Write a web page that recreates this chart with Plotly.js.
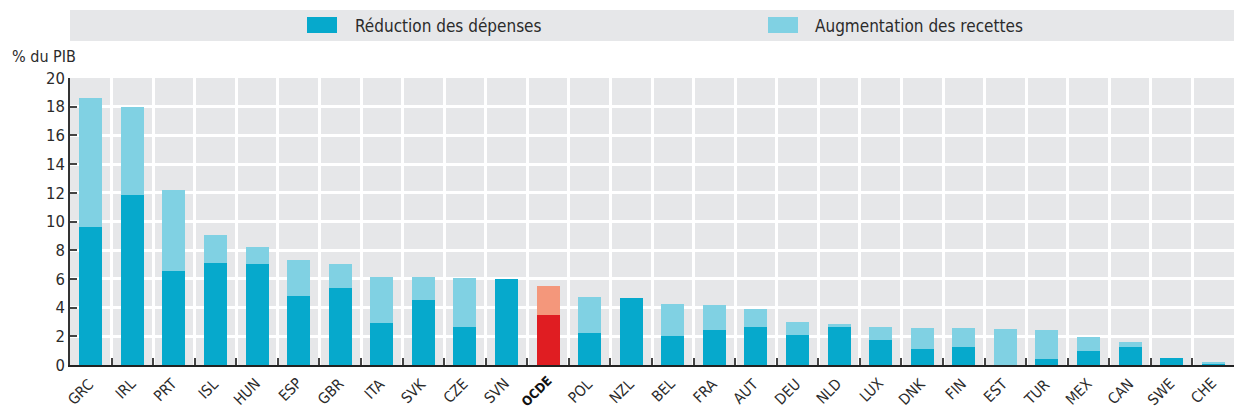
<!DOCTYPE html>
<html>
<head>
<meta charset="utf-8">
<script src="https://cdn.plot.ly/plotly-3.0.1.min.js"></script>
<style>
  html, body { margin: 0; padding: 0; background: #ffffff; }
  #chart { width: 1234px; height: 413px; }
</style>
</head>
<body>
<div id="chart"></div>
<script>
// ---- Data ----
var categories = ["GRC","IRL","PRT","ISL","HUN","ESP","GBR","ITA","SVK","CZE","SVN","OCDE","POL","NZL","BEL","FRA","AUT","DEU","NLD","LUX","DNK","FIN","EST","TUR","MEX","CAN","SWE","CHE"];
var reductionDepenses = [9.65,11.88,6.58,7.14,7.07,4.84,5.40,2.95,4.56,2.67,6.02,3.51,2.26,4.70,2.05,2.47,2.67,2.12,2.67,1.77,1.14,1.28,0.00,0.44,1.00,1.28,0.51,0.08];
var augmentationRecettes = [8.93,6.07,5.65,1.95,1.12,2.51,1.67,3.21,1.60,3.42,0.00,2.02,2.51,0.00,2.23,1.74,1.26,0.90,0.21,0.90,1.46,1.32,2.53,2.03,0.98,0.35,0.00,0.08];
var seriesNames = ["Réduction des dépenses", "Augmentation des recettes"];
var yTickValues = [0,2,4,6,8,10,12,14,16,18,20];
var yAxisLabel = "% du PIB";
var highlightCategory = "OCDE";

// ---- Styles ----
var FONT = "'DejaVu Sans Condensed', 'Liberation Sans Narrow', 'Roboto', sans-serif";
var TEXT = "#2b2b2b";
var BG = "#e6e7e9";
var DARK = "#06a9cc", LIGHT = "#80d1e3";
var DARK_HI = "#e01d22", LIGHT_HI = "#f4977b";

var W = 1234, H = 413;
var M = {l: 70, r: 0, t: 78, b: 48};
var PW = W - M.l - M.r, PH = H - M.t - M.b;
function px(x) { return (x - M.l) / PW; }
function py(y) { return (H - M.b - y) / PH; }

var darkColors = categories.map(function(c){ return c === highlightCategory ? DARK_HI : DARK; });
var lightColors = categories.map(function(c){ return c === highlightCategory ? LIGHT_HI : LIGHT; });
// category boundaries (for the vertical grid + small ticks)
var boundaries = [];
for (var i = 0; i <= categories.length; i++) boundaries.push(i - 0.5);

var traces = [
  {type: "bar", name: seriesNames[0], x: categories, y: reductionDepenses,
   marker: {color: darkColors, line: {width: 0}}, showlegend: false, hoverinfo: "x+y+name"},
  {type: "bar", name: seriesNames[1], x: categories, y: augmentationRecettes,
   marker: {color: lightColors, line: {width: 0}}, showlegend: false, hoverinfo: "x+y+name"},
  // invisible helper on the boundary axis so that it gets drawn
  {type: "scatter", mode: "markers", x: [boundaries[0]], y: [0], xaxis: "x2", yaxis: "y",
   marker: {opacity: 0}, showlegend: false, hoverinfo: "skip"}
];

// rotated category labels, placed on the category axis
var labelAnnotations = categories.map(function(c){
  var hi = c === highlightCategory;
  return {
    xref: "x", yref: "paper", x: c, y: py(hi ? 372.5 : 373.5),
    xanchor: "right", yanchor: "top", xshift: 8,
    text: hi ? "<b>" + c + "</b>" : c,
    textangle: -45, showarrow: false, borderpad: 0,
    font: {family: FONT, size: hi ? 13 : 15, color: hi ? "#111111" : TEXT}
  };
});

var layout = {
  width: W, height: H,
  margin: M,
  paper_bgcolor: "#ffffff",
  plot_bgcolor: BG,
  barmode: "stack",
  bargap: 0.447,
  font: {family: FONT, color: TEXT, size: 15},
  xaxis: {
    type: "category",
    range: [-0.5, categories.length - 0.5],
    showticklabels: false,
    ticks: "", showgrid: false,
    showline: true, linecolor: "#222222", linewidth: 2,
    automargin: false,
    fixedrange: true
  },
  xaxis2: {
    overlaying: "x", anchor: "y", side: "bottom",
    type: "linear",
    range: [-0.5, categories.length - 0.5],
    tickmode: "array", tickvals: boundaries,
    showticklabels: false,
    ticks: "inside", ticklen: 7, tickwidth: 1.5, tickcolor: "#444444",
    showgrid: true, gridcolor: "#ffffff", gridwidth: 2.5,
    zeroline: false, showline: false,
    fixedrange: true
  },
  yaxis: {
    range: [0, 20],
    tickvals: yTickValues,
    ticks: "inside", ticklen: 7, tickwidth: 1.5, tickcolor: "#444444",
    showgrid: true, gridcolor: "#ffffff", gridwidth: 2.5,
    zeroline: false,
    showline: true, linecolor: "#333333", linewidth: 1.5,
    tickfont: {family: FONT, size: 16.5, color: TEXT},
    fixedrange: true
  },
  shapes: [
    {type: "rect", xref: "paper", yref: "paper", x0: 0, x1: 1, y0: py(41), y1: py(10),
     fillcolor: BG, line: {width: 0}, layer: "below"},
    {type: "rect", xref: "paper", yref: "paper", x0: px(307), x1: px(337), y0: py(33), y1: py(17),
     fillcolor: DARK, line: {width: 0}},
    {type: "rect", xref: "paper", yref: "paper", x0: px(768), x1: px(798), y0: py(33), y1: py(17),
     fillcolor: LIGHT, line: {width: 0}}
  ],
  annotations: [
    {xref: "paper", yref: "paper", x: px(353), y: py(25.5), xanchor: "left", yanchor: "middle",
     text: seriesNames[0], showarrow: false, font: {family: FONT, size: 17, color: TEXT}},
    {xref: "paper", yref: "paper", x: px(813), y: py(25.5), xanchor: "left", yanchor: "middle",
     text: seriesNames[1], showarrow: false, font: {family: FONT, size: 17, color: TEXT}},
    {xref: "paper", yref: "paper", x: px(10), y: py(57), xanchor: "left", yanchor: "middle",
     text: yAxisLabel, showarrow: false, font: {family: FONT, size: 16, color: TEXT}}
  ].concat(labelAnnotations)
};

Plotly.newPlot("chart", traces, layout, {displayModeBar: false, responsive: false});
</script>
</body>
</html>
